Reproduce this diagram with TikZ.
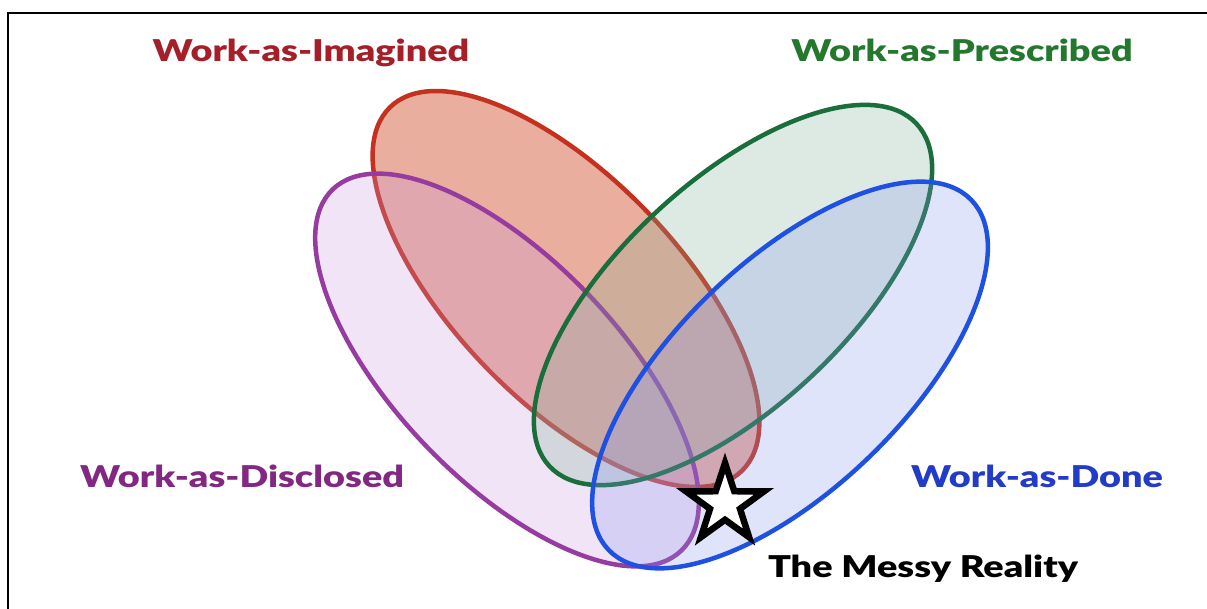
\documentclass[tikz,border=0pt]{standalone}
\usepackage{fontspec}
\setmainfont{Lato}
\newfontfamily\lblfont{Lato Black}[FakeStretch=1.26]
\usetikzlibrary{shapes.geometric}
\definecolor{redline}{RGB}{195,50,30}
\definecolor{redfill}{RGB}{215,95,65}
\definecolor{purpline}{RGB}{150,60,160}
\definecolor{purpfill}{RGB}{200,150,220}
\definecolor{greenline}{RGB}{25,110,60}
\definecolor{greenfill}{RGB}{123,175,147}
\definecolor{blueline}{RGB}{30,80,225}
\definecolor{bluefill}{RGB}{135,150,240}
\definecolor{redtext}{RGB}{165,30,40}
\definecolor{greentext}{RGB}{35,120,45}
\definecolor{purptext}{RGB}{130,40,130}
\definecolor{bluetext}{RGB}{35,60,200}
\tikzset{
  setshape/.style={line width=4.5pt},
  lbl/.style={font=\lblfont\fontsize{30}{32}\selectfont, inner sep=0pt, anchor=base},
}
\begin{document}
\begin{tikzpicture}[x=1pt,y=-1pt]
\useasboundingbox (0,0) rectangle (1207,609);
\fill[white] (0,0) rectangle (1207,609);
\draw[line width=2.5pt] (1207,13) -- (8,13) -- (8,609);
% ellipses
\draw[setshape, draw=redline, fill=redfill, fill opacity=0.5]
  (566,289) circle[x radius=253pt, y radius=112pt, rotate=-46];
\draw[setshape, draw=purpline, fill=purpfill, fill opacity=0.25]
  (507,370) circle[x radius=251pt, y radius=111pt, rotate=-46];
\draw[setshape, draw=greenline, fill=greenfill, fill opacity=0.25]
  (733,295) circle[x radius=251pt, y radius=113pt, rotate=43];
\draw[setshape, draw=blueline, fill=bluefill, fill opacity=0.25]
  (790,375) circle[x radius=252pt, y radius=114pt, rotate=44];
% star
\node[star, star points=5, star point ratio=2.6, minimum size=82pt, inner sep=0pt,
      draw=black, line width=6.5pt, fill=white] (star) at (725,504) {};
% labels
\node[lbl, text=redtext] (wai) at (311,62) {Work-as-Imagined};
\node[lbl, text=greentext] (wap) at (962,62) {Work-as-Prescribed};
\node[lbl, text=purptext] (wad) at (242,487) {Work-as-Disclosed};
\node[lbl, text=bluetext] (wado) at (1037,487) {Work-as-Done};
\node[lbl, text=black] (messy) at (923,577) {The Messy Reality};
\end{tikzpicture}
\end{document}
